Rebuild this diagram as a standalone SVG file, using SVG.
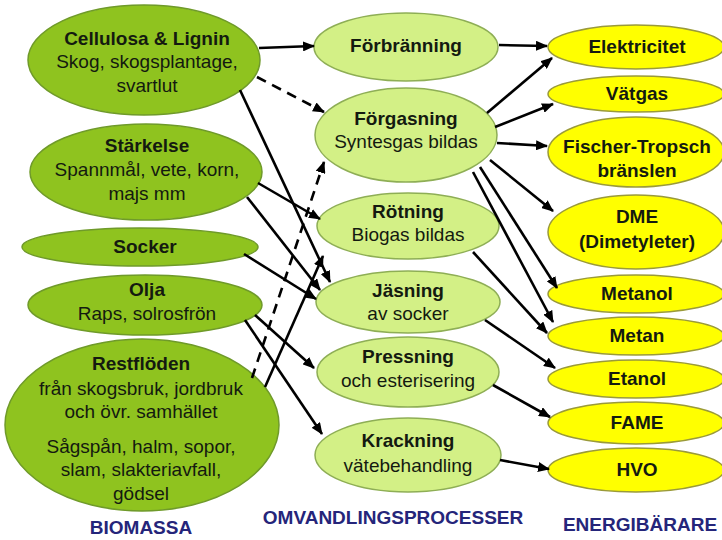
<svg xmlns="http://www.w3.org/2000/svg" width="722" height="540" viewBox="0 0 722 540">
<defs>
<marker id="ah" markerUnits="userSpaceOnUse" markerWidth="12" markerHeight="10" refX="11" refY="5" orient="auto">
<path d="M0,0 L12,5 L0,10 z" fill="#000"/>
</marker>
<style>
.bio{fill:#8fc31f;stroke:#6f9a2a;stroke-width:1.5}
.proc{fill:#d3f086;stroke:#8eae55;stroke-width:1.5}
.carrier{fill:#ffff00;stroke:#9a9a3a;stroke-width:1.5}
text{font-family:"Liberation Sans",Arial,sans-serif;font-size:19px;fill:#141a10;text-anchor:middle}
.b{font-weight:bold}
.cap{font-weight:bold;fill:#25257a}
.c line{stroke:#000;stroke-width:2.6;marker-end:url(#ah)}
.c .d{stroke-dasharray:10 7}
</style>
</defs>
<rect width="722" height="540" fill="#fff"/>

<g id="n-cellulosa"><ellipse class="bio" cx="144" cy="60" rx="116" ry="55"/>
<text class="b" x="147" y="45">Cellulosa &amp; Lignin</text><text x="147" y="68">Skog, skogsplantage,</text><text x="147" y="92">svartlut</text></g>
<g id="n-starkelse"><ellipse class="bio" cx="146" cy="172" rx="116" ry="48"/>
<text class="b" x="147" y="152">Stärkelse</text><text x="147" y="176">Spannmål, vete, korn,</text><text x="147" y="200">majs mm</text></g>
<g id="n-socker"><ellipse class="bio" cx="140" cy="247" rx="118" ry="19"/>
<text class="b" x="145" y="253">Socker</text></g>
<g id="n-olja"><ellipse class="bio" cx="145" cy="305" rx="117" ry="30"/>
<text class="b" x="147" y="296">Olja</text><text x="147" y="320">Raps, solrosfrön</text></g>
<g id="n-restfloden"><ellipse class="bio" cx="142" cy="425" rx="137" ry="86"/>
<text class="b" x="141" y="370">Restflöden</text><text x="141" y="395">från skogsbruk, jordbruk</text><text x="141" y="418">och övr. samhället</text>
<text x="141" y="453">Sågspån, halm, sopor,</text><text x="141" y="476">slam, slakteriavfall,</text><text x="141" y="500">gödsel</text></g>

<g id="n-forbranning"><ellipse class="proc" cx="406" cy="47" rx="92" ry="34"/>
<text class="b" x="406" y="52">Förbränning</text></g>
<g id="n-forgasning"><ellipse class="proc" cx="406" cy="135" rx="91" ry="47"/>
<text class="b" x="406" y="125">Förgasning</text><text x="406" y="148">Syntesgas bildas</text></g>
<g id="n-rotning"><ellipse class="proc" cx="408" cy="226" rx="91" ry="33"/>
<text class="b" x="408" y="218">Rötning</text><text x="408" y="241">Biogas bildas</text></g>
<g id="n-jasning"><ellipse class="proc" cx="408" cy="302" rx="92" ry="31"/>
<text class="b" x="408" y="297">Jäsning</text><text x="408" y="320">av socker</text></g>
<g id="n-pressning"><ellipse class="proc" cx="408" cy="372" rx="91" ry="35"/>
<text class="b" x="408" y="363">Pressning</text><text x="408" y="387">och esterisering</text></g>
<g id="n-krackning"><ellipse class="proc" cx="408" cy="455" rx="93" ry="37"/>
<text class="b" x="408" y="447">Krackning</text><text x="408" y="472">vätebehandling</text></g>

<g id="n-elektricitet"><ellipse class="carrier" cx="636" cy="47" rx="88" ry="22"/>
<text class="b" x="637" y="53">Elektricitet</text></g>
<g id="n-vatgas"><ellipse class="carrier" cx="636" cy="94" rx="88" ry="18"/>
<text class="b" x="637" y="100">Vätgas</text></g>
<g id="n-fischer"><ellipse class="carrier" cx="636" cy="152" rx="88" ry="35"/>
<text class="b" x="637" y="153">Fischer-Tropsch</text><text class="b" x="637" y="177">bränslen</text></g>
<g id="n-dme"><ellipse class="carrier" cx="636" cy="232" rx="88" ry="37"/>
<text class="b" x="637" y="223">DME</text><text class="b" x="637" y="248">(Dimetyleter)</text></g>
<g id="n-metanol"><ellipse class="carrier" cx="636" cy="294" rx="88" ry="19"/>
<text class="b" x="637" y="300">Metanol</text></g>
<g id="n-metan"><ellipse class="carrier" cx="636" cy="336" rx="88" ry="19"/>
<text class="b" x="637" y="342">Metan</text></g>
<g id="n-etanol"><ellipse class="carrier" cx="636" cy="379" rx="88" ry="19"/>
<text class="b" x="637" y="385">Etanol</text></g>
<g id="n-fame"><ellipse class="carrier" cx="636" cy="423" rx="88" ry="21"/>
<text class="b" x="637" y="429">FAME</text></g>
<g id="n-hvo"><ellipse class="carrier" cx="636" cy="470" rx="88" ry="22"/>
<text class="b" x="637" y="476">HVO</text></g>

<g id="connectors" class="c">
<line x1="259" y1="48" x2="314" y2="46"/>
<line class="d" x1="257" y1="77" x2="324" y2="112"/>
<line x1="240" y1="90" x2="330" y2="282"/>
<line x1="258" y1="183" x2="320" y2="219"/>
<line x1="247" y1="197" x2="320" y2="290"/>
<line x1="244" y1="254" x2="316" y2="299"/>
<line class="d" x1="252" y1="378" x2="324" y2="162"/>
<line x1="265" y1="387" x2="323" y2="256"/>
<line x1="255" y1="315" x2="314" y2="368"/>
<line x1="245" y1="320" x2="322" y2="434"/>
<line x1="499" y1="45" x2="547" y2="46"/>
<line x1="487" y1="113" x2="552" y2="58"/>
<line x1="495" y1="127" x2="553" y2="104"/>
<line x1="497" y1="143" x2="547" y2="146"/>
<line x1="490" y1="160" x2="553" y2="211"/>
<line x1="480" y1="167" x2="557" y2="288"/>
<line x1="473" y1="172" x2="553" y2="322"/>
<line x1="473" y1="252" x2="547" y2="333"/>
<line x1="485" y1="320" x2="555" y2="368"/>
<line x1="493" y1="385" x2="550" y2="417"/>
<line x1="500" y1="460" x2="549" y2="469"/>
</g>

<text class="cap" x="141" y="534">BIOMASSA</text>
<text class="cap" x="393" y="524">OMVANDLINGSPROCESSER</text>
<text class="cap" x="640" y="531">ENERGIBÄRARE</text>
</svg>
